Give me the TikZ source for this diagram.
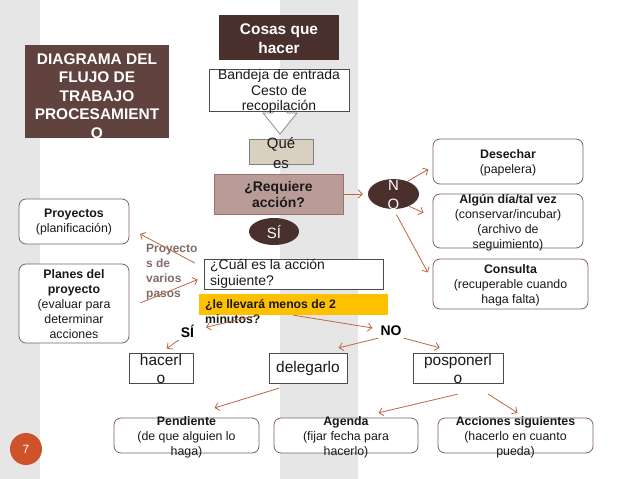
\documentclass[tikz,border=0pt]{standalone}
\usepackage{fontspec}
\setmainfont{Liberation Sans}
\usetikzlibrary{shapes.geometric,arrows.meta}
\definecolor{bandgray}{RGB}{230,230,230}
\definecolor{titlebrown}{RGB}{96,66,62}
\definecolor{darkbrown}{RGB}{74,48,45}
\definecolor{mauve}{RGB}{185,155,152}
\definecolor{mauveedge}{RGB}{155,115,110}
\definecolor{beige}{RGB}{218,208,192}
\definecolor{rust}{RGB}{190,100,65}
\definecolor{frame}{RGB}{125,100,95}
\definecolor{mutedtext}{RGB}{128,108,104}
\definecolor{gold}{RGB}{255,192,0}
\definecolor{pageorange}{RGB}{208,82,42}
\newcommand\fsz[2]{\fontsize{#1}{#2}\selectfont}

\begin{document}
\begin{tikzpicture}[x=1bp, y=-1bp,
    wh/.style 2 args={minimum width=#1bp, minimum height=#2bp},
    sq/.style={rectangle, draw=black!70, fill=white, line width=0.8bp, inner sep=0pt},
    rnd/.style={rectangle, rounded corners=7bp, draw=frame, fill=white, line width=0.8bp, inner sep=0pt},
    oval/.style={ellipse, fill=darkbrown, inner sep=0pt},
    txt/.style={inner sep=0pt, align=center, text=black!90},
    boxtxt/.style={txt, font=\fsz{12.4}{15}},
    bigtxt/.style={txt, font=\fsz{15.5}{18}},
    lbl/.style={inner sep=2bp, font=\fsz{14}{16}\bfseries}]
  \useasboundingbox (0,0) rectangle (638,479);
  \fill[white] (0,0) rectangle (638,479);
  \fill[bandgray] (0,0) rectangle (40,479);
  \fill[bandgray] (280,0) rectangle (358,479);
  \filldraw[fill=white, draw=black!45, line width=0.8bp]
    (273,100) -- (287,100) -- (287,113) -- (297,113) -- (280,134)
    -- (263,113) -- (273,113) -- cycle;

  \path
    (97,91.5) node[rectangle, fill=titlebrown, wh={144}{93}] (title) {}
    (279,37.5) node[rectangle, fill=darkbrown, wh={120}{45}] (cosas) {}
    (279,90) node[sq, wh={140}{42}] (bandeja) {}
    (281,151.5) node[sq, fill=beige, draw=black!50, wh={64}{25}] (quees) {}
    (278.5,194) node[sq, fill=mauve, draw=mauveedge, wh={129}{40}] (requiere) {}
    (393.5,194) node[oval, wh={51}{30}] (no) {}
    (274,231.5) node[oval, wh={50}{27}] (si) {}
    (508,161.5) node[rnd, wh={150}{45}] (desechar) {}
    (508,221) node[rnd, wh={150}{54}] (algun) {}
    (510.5,284) node[rnd, wh={155}{50}] (consulta) {}
    (74,221.5) node[rnd, wh={110}{45}] (proyectos) {}
    (74,303.5) node[rnd, wh={110}{79}] (planes) {}
    (293.5,274) node[sq, wh={179}{30}] (cual) {}
    (293.5,304.5) node[rectangle, fill=gold, wh={189}{21}] (menos) {}
    (161,368) node[sq, wh={64}{30}] (hacerlo) {}
    (308,368) node[sq, wh={78}{30}] (delegarlo) {}
    (458,368) node[sq, wh={90}{30}] (posponerlo) {}
    (186.5,435.5) node[rnd, wh={145}{35}] (pendiente) {}
    (346,435.5) node[rnd, wh={144}{35}] (agenda) {}
    (515.5,435.5) node[rnd, wh={155}{35}] (acciones) {}
    (26,449) node[circle, fill=pageorange, minimum size=32bp, inner sep=0pt,
      text=white, font=\fsz{12}{14}] (page) {7};

  \path
    (97,96) node[txt, text=white, font=\fsz{15.5}{18.5}\bfseries] (title-t)
      {DIAGRAMA DEL\\FLUJO DE\\TRABAJO\\PROCESAMIENT\\O}
    (279,38.5) node[txt, text=white, font=\fsz{15.5}{19}\bfseries] (cosas-t)
      {Cosas que\\hacer}
    (279,91.5) node[txt, font=\fsz{14}{15.5}] (bandeja-t)
      {Bandeja de entrada\\Cesto de\\recopilación}
    (281,153) node[txt, font=\fsz{15}{20}] (quees-t) {Qué\\es}
    (278.5,194.5) node[txt, font=\fsz{14}{17}\bfseries] (requiere-t)
      {¿Requiere\\acción?}
    (393.5,194.5) node[txt, text=white, font=\fsz{15}{19}] (no-t) {N\\O}
    (274,232.5) node[txt, text=white, font=\fsz{15}{18}] (si-t) {SÍ}
    (508,163) node[boxtxt] (desechar-t) {\textbf{Desechar}\\(papelera)}
    (508,222.5) node[boxtxt] (algun-t)
      {\textbf{Algún día/tal vez}\\(conservar/incubar)\\(archivo de\\seguimiento)}
    (510.5,285) node[boxtxt] (consulta-t)
      {\textbf{Consulta}\\(recuperable cuando\\haga falta)}
    (74,222.5) node[boxtxt] (proyectos-t) {\textbf{Proyectos}\\(planificación)}
    (74,304) node[boxtxt] (planes-t)
      {\textbf{Planes del}\\\textbf{proyecto}\\(evaluar para\\determinar\\acciones}
    (146,272) node[txt, anchor=west, align=left, text=mutedtext,
      font=\fsz{12}{15.3}\bfseries] (varios) {Proyecto\\s de\\varios\\pasos}
    (210,274) node[txt, anchor=west, align=left, font=\fsz{14}{16}] (cual-t)
      {¿Cuál es la acción\\siguiente?}
    (205,312) node[txt, anchor=west, align=left, font=\fsz{12.3}{15}\bfseries] (menos-t)
      {¿le llevará menos de 2\\minutos?}
    (187.5,331.5) node[lbl] (silbl) {SÍ}
    (391,331) node[lbl] (nolbl) {NO}
    (161,369) node[bigtxt] (hacerlo-t) {hacerl\\o}
    (308,369) node[bigtxt] (delegarlo-t) {delegarlo}
    (458,369) node[bigtxt] (posponerlo-t) {posponerl\\o}
    (186.5,437) node[boxtxt] (pendiente-t)
      {\textbf{Pendiente}\\(de que alguien lo\\haga)}
    (346,437) node[boxtxt] (agenda-t) {\textbf{Agenda}\\(fijar fecha para\\hacerlo)}
    (515.5,437) node[boxtxt] (acciones-t)
      {\textbf{Acciones siguientes}\\(hacerlo en cuanto\\pueda)};

  \begin{scope}[-{Straight Barb[length=4bp,width=8bp]}, draw=rust, line width=0.8bp]
    \draw[shorten >=5bp] (requiere) to (no);
    \draw[shorten >=5bp] (no.42) to (desechar.184);
    \draw[shorten >=10bp] (no.-38) to (algun.177);
    \draw[shorten <=6bp, shorten >=10bp] (no.south) to (consulta.178);
    \draw[shorten <=10bp, shorten >=12bp] (cual.176) to (proyectos.353);
    \draw[shorten <=12bp, shorten >=6.5bp] (planes.356) to (cual.182);
    \draw[shorten >=10bp] (menos.197) to (silbl);
    \draw[shorten >=6bp] (menos.south) to (nolbl);
    \draw[shorten >=7bp] (silbl.south west) to (hacerlo.north);
    \draw[shorten >=20bp] (nolbl.south west) to (delegarlo.54);
    \draw[shorten >=19bp] (nolbl.south east) to (posponerlo.north);
    \draw[shorten <=16bp, shorten >=33bp] (delegarlo.229) to (pendiente.101);
    \draw[shorten <=47bp, shorten >=21bp] (posponerlo.south east) to (agenda.56);
    \draw[shorten <=20bp, shorten >=9bp] (posponerlo.-49) to (acciones.62);
  \end{scope}
\end{tikzpicture}
\end{document}
